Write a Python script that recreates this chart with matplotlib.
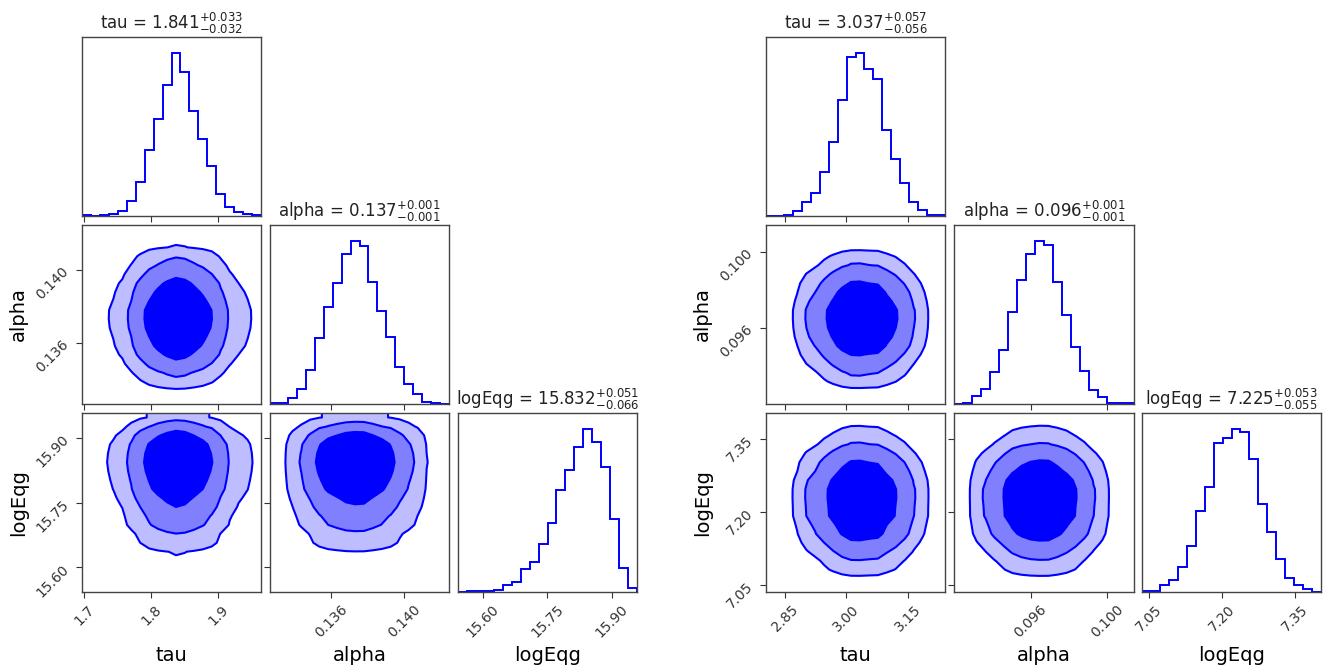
import numpy as np
import matplotlib
matplotlib.use("Agg")
import matplotlib.pyplot as plt

# ---------------- data ----------------
labels = ["tau", "alpha", "logEqg"]

# left corner plot
left_tau_counts = [2, 0, 3, 7, 15, 44, 103, 197, 292, 395, 489, 434, 317, 230, 149, 66, 26, 12, 7, 2]
left_alpha_counts = [2, 2, 18, 46, 102, 197, 288, 360, 446, 484, 471, 363, 278, 200, 109, 58, 29, 6, 2, 0]
left_logEqg_counts = [1, 2, 2, 3, 5, 20, 29, 68, 91, 143, 207, 304, 365, 435, 487, 448, 373, 218, 71, 12]
left_ranges = [(1.697, 1.964), (0.1326, 0.1425), (15.543, 15.958)]
left_ticks = [[1.7, 1.8, 1.9], [0.136, 0.140], [15.60, 15.75, 15.90]]
left_ticklabels = [["1.7", "1.8", "1.9"], ["0.136", "0.140"], ["15.60", "15.75", "15.90"]]
left_medians = ["1.841", "0.137", "15.832"]
left_err_plus = ["0.033", "0.001", "0.051"]
left_err_minus = ["0.032", "0.001", "0.066"]

# right corner plot
right_tau_counts = [0, 0, 2, 14, 41, 70, 133, 222, 350, 477, 489, 443, 413, 257, 171, 100, 42, 18, 2, 2]
right_alpha_counts = [0, 2, 23, 46, 95, 163, 277, 372, 451, 489, 479, 366, 267, 172, 99, 43, 21, 2, 2, 2]
right_logEqg_counts = [2, 2, 20, 35, 76, 137, 243, 315, 447, 462, 487, 480, 397, 262, 180, 99, 42, 20, 8, 0]
right_ranges = [(2.804, 3.241), (0.0920, 0.1014), (7.036, 7.404)]
right_ticks = [[2.85, 3.00, 3.15], [0.096, 0.100], [7.05, 7.20, 7.35]]
right_ticklabels = [["2.85", "3.00", "3.15"], ["0.096", "0.100"], ["7.05", "7.20", "7.35"]]
right_medians = ["3.037", "0.096", "7.225"]
right_err_plus = ["0.057", "0.001", "0.053"]
right_err_minus = ["0.056", "0.001", "0.055"]

# contour mass levels (outer -> inner)
mass_levels = [0.99, 0.93, 0.68]

# ---------------- style ----------------
W, H = 1339, 666
fig = plt.figure(figsize=(W / 100, H / 100), dpi=100)
BLUE = (0.0, 0.0, 1.0)
FILL_COLORS = [(0.74, 0.74, 1.0), (0.5, 0.5, 1.0), (0.0, 0.0, 1.0)]
SPINE = "#444444"


def add_ax(x0, y0, x1, y1):
    return fig.add_axes([x0 / W, 1 - y1 / H, (x1 - x0) / W, (y1 - y0) / H])


def style(ax):
    for s in ax.spines.values():
        s.set_color(SPINE)
        s.set_linewidth(1.0)
    ax.tick_params(colors="#333333", labelsize=10, length=4)


def density2d(cx, cy):
    hx = np.asarray(cx, float)
    hy = np.asarray(cy, float)
    Hm = np.outer(hx, hy)
    return Hm / Hm.sum()


def corner(col_x, row_y, counts, ranges, ticks, ticklabels, medians, ep, em):
    n = len(counts)
    edges = [np.linspace(r[0], r[1], len(c) + 1) for c, r in zip(counts, ranges)]
    for i in range(n):
        for j in range(i + 1):
            ax = add_ax(col_x[j][0], row_y[i][0], col_x[j][1], row_y[i][1])
            style(ax)
            if i == j:
                c = np.asarray(counts[i], float)
                ax.stairs(c, edges[i], color=BLUE, lw=1.4)
                ax.set_ylim(0, 1.1 * c.max())
                ax.set_yticks([])
                ax.set_title(f"{labels[i]} = ${medians[i]}_{{-{em[i]}}}^{{+{ep[i]}}}$",
                             fontsize=12, color="#222222")
            else:
                Hm = density2d(counts[j], counts[i])  # shape (nx, ny)
                ex, ey = edges[j], edges[i]
                X1 = 0.5 * (ex[1:] + ex[:-1])
                Y1 = 0.5 * (ey[1:] + ey[:-1])
                flat = np.sort(Hm.flatten())[::-1]
                cum = np.cumsum(flat)
                V = []
                for m in mass_levels:
                    k = np.searchsorted(cum, m)
                    k = min(k, len(flat) - 1)
                    V.append(flat[k])
                V = np.sort(np.array(V))
                # pad like corner
                H2 = Hm.min() + np.zeros((Hm.shape[0] + 4, Hm.shape[1] + 4))
                H2[2:-2, 2:-2] = Hm
                H2[2:-2, 1] = Hm[:, 0]
                H2[2:-2, -2] = Hm[:, -1]
                H2[1, 2:-2] = Hm[0]
                H2[-2, 2:-2] = Hm[-1]
                H2[1, 1] = Hm[0, 0]
                H2[1, -2] = Hm[0, -1]
                H2[-2, 1] = Hm[-1, 0]
                H2[-2, -2] = Hm[-1, -1]
                dx, dy = X1[1] - X1[0], Y1[1] - Y1[0]
                X2 = np.concatenate([X1[0] + np.array([-2, -1]) * dx, X1, X1[-1] + np.array([1, 2]) * dx])
                Y2 = np.concatenate([Y1[0] + np.array([-2, -1]) * dy, Y1, Y1[-1] + np.array([1, 2]) * dy])
                ax.contourf(X2, Y2, H2.T, np.concatenate([V, [Hm.max() * 1.01]]),
                            colors=FILL_COLORS, antialiased=False)
                ax.contour(X2, Y2, H2.T, V, colors=[BLUE], linewidths=1.5)
                ax.set_xlim(ranges[j])
                ax.set_ylim(ranges[i])
                ax.set_yticks(ticks[i])
                if j == 0:
                    ax.set_yticklabels(ticklabels[i], rotation=45)
                    ax.set_ylabel(labels[i], fontsize=14)
                    ax.yaxis.set_label_coords(-0.3, 0.5)
                else:
                    ax.set_yticklabels([])
            ax.set_xlim(ranges[j])
            ax.set_xticks(ticks[j])
            if i == n - 1:
                ax.set_xticklabels(ticklabels[j], rotation=45)
                ax.set_xlabel(labels[j], fontsize=14)
                ax.xaxis.set_label_coords(0.5, -0.3)
            else:
                ax.set_xticklabels([])


rows = [(37, 216), (225, 404), (413, 592)]
left_cols = [(82, 261), (270, 449), (458, 637)]
right_cols = [(766, 945), (954, 1134), (1142, 1321)]

corner(left_cols, rows,
       [left_tau_counts, left_alpha_counts, left_logEqg_counts],
       left_ranges, left_ticks, left_ticklabels, left_medians, left_err_plus, left_err_minus)
corner(right_cols, rows,
       [right_tau_counts, right_alpha_counts, right_logEqg_counts],
       right_ranges, right_ticks, right_ticklabels, right_medians, right_err_plus, right_err_minus)

fig.savefig("out.png", dpi=100)
